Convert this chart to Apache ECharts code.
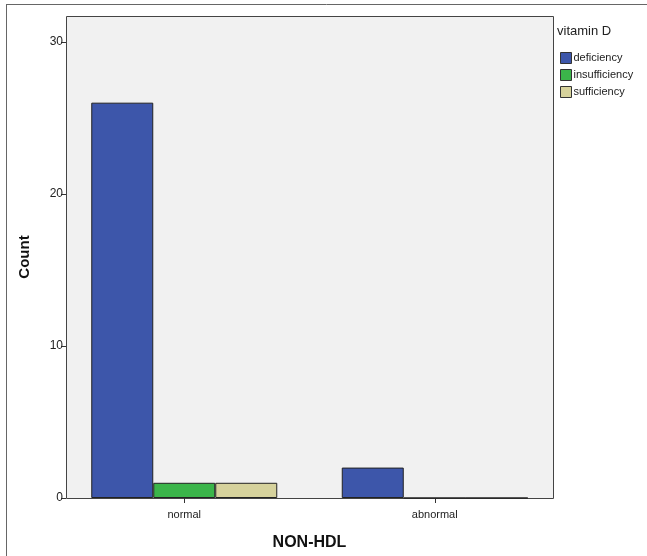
<!DOCTYPE html>
<html>
<head>
<meta charset="utf-8">
<script src="https://cdn.jsdelivr.net/npm/echarts@6/dist/echarts.min.js"></script>
<style>html,body{margin:0;padding:0;background:#fff;}#c{width:647px;height:556px;}</style>
</head>
<body>
<div id="c"></div>
<script>
const categories = ['normal', 'abnormal'];
const seriesNames = ['deficiency', 'insufficiency', 'sufficiency'];
const deficiency = [26, 2];
const insufficiency = [1, 0];
const sufficiency = [1, 0];
const yTicks = [0, 10, 20, 30];
const colors = ['#3d56aa', '#3bb54a', '#d6d29c'];

const chart = echarts.init(document.getElementById('c'), null, {renderer: 'canvas'});
const values = [deficiency, insufficiency, sufficiency];
const font = 'Arial, "Liberation Sans", sans-serif';

chart.setOption({
  animation: false,
  backgroundColor: '#ffffff',
  grid: {
    left: 59, right: 87, top: 16, bottom: 58, show: false
  },
  legend: {
    orient: 'vertical', left: 555, top: 47, itemGap: 5,
    itemWidth: 11, itemHeight: 11, icon: 'rect',
    data: seriesNames,
    textStyle: {fontSize: 11, color: '#222', fontFamily: font, padding: [0,0,0,-3]},
    itemStyle: {borderColor: '#333', borderWidth: 1}
  },
  graphic: [
    {type: 'rect', z: -1, shape: {x: 66.5, y: 16.5, width: 487, height: 482}, style: {fill: '#f1f1f1', stroke: '#444', lineWidth: 1}},
    {type: 'text', left: 557, top: 25, style: {text: 'vitamin D', fontSize: 13, fill: '#222', fontFamily: font}},
    {type: 'line', shape: {x1: 6, y1: 4.5, x2: 647, y2: 4.5}, style: {stroke: '#666', lineWidth: 1}},
    {type: 'line', shape: {x1: 6.5, y1: 4, x2: 6.5, y2: 556}, style: {stroke: '#666', lineWidth: 1}}
  ],
  xAxis: {
    type: 'category', data: categories,
    name: 'NON-HDL', nameLocation: 'middle', nameGap: 37,
    nameTextStyle: {fontSize: 16, fontWeight: 'bold', color: '#111', fontFamily: font},
    axisLine: {show: false},
    axisTick: {show: true, alignWithLabel: true, length: 5, lineStyle: {color: '#333'}},
    axisLabel: {fontSize: 11, color: '#222', margin: 11, fontFamily: font},
    splitLine: {show: false}
  },
  yAxis: {
    type: 'value', min: 0, max: 31.7, offset: -7,
    name: 'Count', nameLocation: 'middle', nameGap: 34,
    nameTextStyle: {fontSize: 15, fontWeight: 'bold', color: '#111', fontFamily: font},
    axisLine: {show: false},
    axisTick: {show: true, length: 5, lineStyle: {color: '#333'}, customValues: yTicks},
    axisLabel: {fontSize: 12, color: '#222', margin: 3, fontFamily: font, customValues: yTicks},
    splitLine: {show: false}
  },
  series: seriesNames.map((n, i) => ({
    name: n, type: 'bar', data: values[i],
    barWidth: 62, barGap: '0%', z: 2,
    itemStyle: {color: colors[i], borderColor: '#222', borderWidth: 1}
  }))
});
</script>
</body>
</html>
